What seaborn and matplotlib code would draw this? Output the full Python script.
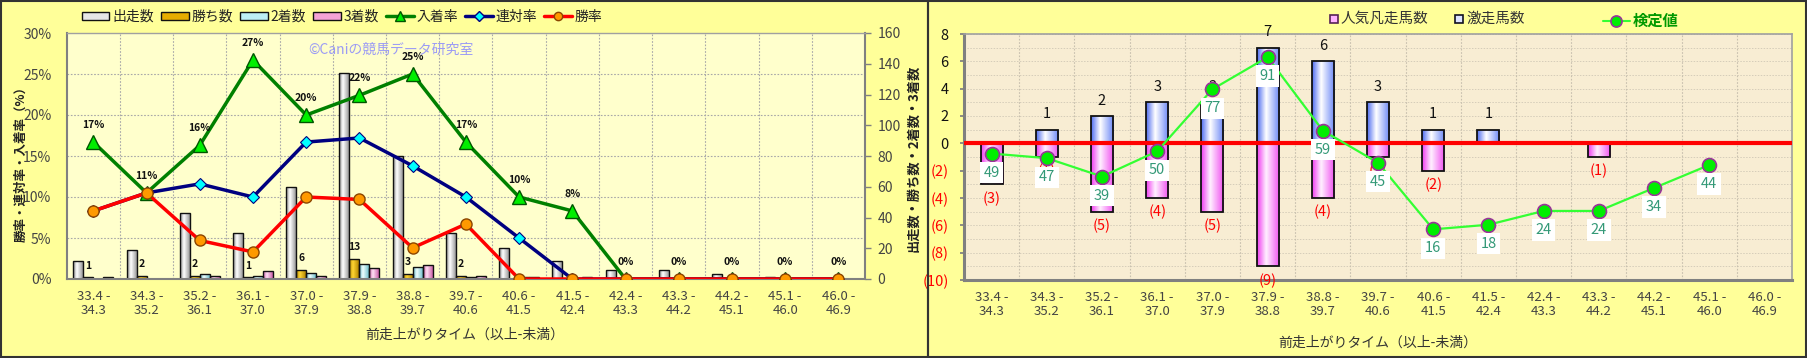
import numpy as np
import pandas as pd
import matplotlib
matplotlib.use("Agg")
import matplotlib.pyplot as plt
import seaborn as sns
from matplotlib.patches import Rectangle
from matplotlib.lines import Line2D
from matplotlib.colors import LinearSegmentedColormap

# ---------------- data ----------------
categories = ["33.4 -\n34.3", "34.3 -\n35.2", "35.2 -\n36.1", "36.1 -\n37.0", "37.0 -\n37.9",
              "37.9 -\n38.8", "38.8 -\n39.7", "39.7 -\n40.6", "40.6 -\n41.5", "41.5 -\n42.4",
              "42.4 -\n43.3", "43.3 -\n44.2", "44.2 -\n45.1", "45.1 -\n46.0", "46.0 -\n46.9"]
runners = [12, 19, 43, 30, 60, 134, 80, 30, 20, 12, 6, 6, 3, 1, 0]      # 出走数
wins    = [1, 2, 2, 1, 6, 13, 3, 2, 0, 0, 0, 0, 0, 0, 0]                # 勝ち数
seconds = [0, 0, 3, 2, 4, 10, 8, 1, 1, 0, 0, 0, 0, 0, 0]                # 2着数
thirds  = [1, 0, 2, 5, 2, 7, 9, 2, 1, 1, 0, 0, 0, 0, 0]                 # 3着数
place_rate    = [16.7, 10.5, 16.3, 26.7, 20.0, 22.4, 25.0, 16.7, 10.0, 8.3, 0, 0, 0, 0, 0]  # 入着率
quinella_rate = [8.3, 10.5, 11.6, 10.0, 16.7, 17.2, 13.8, 10.0, 5.0, 0, 0, 0, 0, 0, 0]    # 連対率
win_rate      = [8.3, 10.5, 4.7, 3.3, 10.0, 9.7, 3.8, 6.7, 0, 0, 0, 0, 0, 0, 0]          # 勝率
place_labels  = ["17%", "11%", "16%", "27%", "20%", "22%", "25%", "17%", "10%", "8%",
                 "0%", "0%", "0%", "0%", "0%"]

upset_counts = [0, 1, 2, 3, 3, 7, 6, 3, 1, 1, 0, 0, 0, 0, 0]    # 激走馬数
flop_counts  = [3, 1, 5, 4, 5, 9, 4, 1, 2, 0, 0, 1, 0, 0, 0]    # 人気凡走馬数
test_values  = [49, 47, 39, 50, 77, 91, 59, 45, 16, 18, 24, 24, 34, 44, np.nan]  # 検定値

series_names = ["出走数", "勝ち数", "2着数", "3着数"]

# ---------------- style ----------------
sns.set_theme(style="white")
plt.rcParams["font.family"] = ["Noto Sans CJK JP", "DejaVu Sans"]
plt.rcParams["axes.unicode_minus"] = False

W, H = 1808, 358
fig = plt.figure(figsize=(W / 100, H / 100), dpi=100, facecolor="#FFFF99")


def fx(px):
    return px / W


def fy(py):
    return 1 - py / H


def shade_bars(ax, patches, stops):
    xl, yl = ax.get_xlim(), ax.get_ylim()
    cmap = LinearSegmentedColormap.from_list("g", stops)
    grad = np.linspace(0, 1, 64).reshape(1, -1)
    for p in patches:
        h = p.get_height()
        if h == 0:
            continue
        x0, w, y0 = p.get_x(), p.get_width(), p.get_y()
        z = p.get_zorder()
        im = ax.imshow(grad, extent=[x0, x0 + w, y0, y0 + h], aspect="auto", cmap=cmap,
                       zorder=z, interpolation="bilinear")
        im.set_clip_path(p)
        p.set_facecolor("none")
        p.set_zorder(z + 0.05)
    ax.set_xlim(xl)
    ax.set_ylim(yl)


tick_col = "#444444"
grid_kw = dict(color="#A8A8A8", lw=0.8, ls=(0, (1.5, 1.5)))

# ================= LEFT CHART =================
axL = fig.add_axes([fx(66.7), fy(279), fx(865 - 66.7), (279 - 33) / H])
axL.set_facecolor("#FFFFCC")

df = pd.concat([
    pd.DataFrame({"cat": categories, "series": name, "count": vals})
    for name, vals in zip(series_names, [runners, wins, seconds, thirds])
], ignore_index=True)

bar_colors = ["#E6E6E6", "#E6AC00", "#BDEFF5", "#F5A3D6"]
sns.barplot(data=df, x="cat", y="count", hue="series", hue_order=series_names,
            palette=bar_colors, width=0.75, edgecolor="#111111", linewidth=1.0,
            errorbar=None, saturation=1, legend=False, ax=axL, zorder=2)
axL.set_ylim(0, 160)
axL.set_xlim(-0.5, 14.5)
axL.set_xlabel("")
axL.set_ylabel("")

stops_list = [
    [(0, "#8C8C8C"), (0.4, "#FFFFFF"), (1, "#9A9A9A")],
    [(0, "#B38600"), (0.4, "#FFD633"), (1, "#B38600")],
    [(0, "#66B8C8"), (0.4, "#EFFFFF"), (1, "#70C0CC")],
    [(0, "#CC5FA8"), (0.4, "#FFE0F4"), (1, "#CC5FA8")],
]
for cont, stops in zip(axL.containers, stops_list):
    shade_bars(axL, list(cont), stops)

# grid (drawn on the bar axis so it stays behind everything)
for k in range(1, 6):
    axL.axhline(160 * k / 6, zorder=0.5, **grid_kw)
for k in range(14):
    axL.axvline(k + 0.5, zorder=0.5, **grid_kw)

# win labels
axL.bar_label(axL.containers[1], labels=[str(w) if w > 0 else "" for w in wins],
              padding=5, fontsize=7.5, fontweight="bold", color="#111111")

for s in ["left", "bottom", "right"]:
    axL.spines[s].set_color("#808080")
    axL.spines[s].set_linewidth(1.5)
axL.spines["top"].set_color("#A0A0A0")
axL.spines["top"].set_linewidth(1)

axP = axL.twinx()
# counts axis on the right, percent axis on the left
axL.yaxis.tick_right()
axL.yaxis.set_label_position("right")
axL.set_yticks(range(0, 161, 20))
axL.tick_params(axis="y", which="major", right=True, left=False, labelright=True,
                labelleft=False, length=4, width=1, color="#808080",
                labelsize=10, labelcolor=tick_col, pad=5)
axL.tick_params(axis="x", length=0, labelsize=9.5, labelcolor="#444444", pad=8)
for lab in axL.get_xticklabels():
    lab.set_linespacing(1.05)

axP.yaxis.tick_left()
axP.yaxis.set_label_position("left")
axP.set_ylim(0, 30)
axP.set_yticks(range(0, 31, 5))
axP.set_yticklabels([f"{v}%" for v in range(0, 31, 5)])
axP.tick_params(axis="y", length=0, labelsize=10, labelcolor=tick_col, pad=11,
                left=True, right=False, labelleft=True, labelright=False)
for s in axP.spines.values():
    s.set_visible(False)

xi = np.arange(len(categories))
sns.lineplot(x=xi, y=place_rate, ax=axP, color="#008000", lw=2.5, marker="^", markersize=10,
             markerfacecolor="#00EE00", markeredgecolor="#005500", markeredgewidth=1, zorder=3)
sns.lineplot(x=xi, y=quinella_rate, ax=axP, color="#000080", lw=2.5, marker="D", markersize=6,
             markerfacecolor="#00FFFF", markeredgecolor="#000080", markeredgewidth=0.8, zorder=4)
sns.lineplot(x=xi, y=win_rate, ax=axP, color="#FF0000", lw=2.5, marker="o", markersize=8,
             markerfacecolor="#FF9900", markeredgecolor="#8B4500", markeredgewidth=1, zorder=5)
axP.set_xlim(-0.5, 14.5)
axP.set_ylim(0, 30)
axP.set_xlabel("")
axP.set_ylabel("")

for i, (v, lab) in enumerate(zip(place_rate, place_labels)):
    axP.annotate(lab, (i, v), xytext=(0, 12), textcoords="offset pixels", ha="center",
                 va="bottom", fontsize=7.5, fontweight="bold", color="#111111", zorder=6)

fig.text(fx(308), fy(50), "©Caniの競馬データ研究室", color="#9B9BF5", fontsize=10,
         ha="left", va="center")

fig.text(fx(21), fy(161), "勝率・連対率・入着率（%）", rotation=90, ha="center", va="center",
         fontsize=9, fontweight="bold", color="#222222")
fig.text(fx(913), fy(158), "出走数・勝ち数・2着数・3着数", rotation=90, ha="center", va="center",
         fontsize=9.5, fontweight="bold", color="#222222")
fig.text(fx(465), fy(335), "前走上がりタイム（以上-未満）", ha="center", va="center",
         fontsize=10, color="#333333")

# left legend
leg_handles = [Rectangle((0, 0), 1, 1, fc=c, ec="#111111", lw=1) for c in bar_colors] + [
    Line2D([], [], color="#008000", lw=2.5, marker="^", markersize=7,
           markerfacecolor="#00EE00", markeredgecolor="#005500"),
    Line2D([], [], color="#000080", lw=2.5, marker="D", markersize=5,
           markerfacecolor="#00FFFF", markeredgecolor="#000080"),
    Line2D([], [], color="#FF0000", lw=2.5, marker="o", markersize=6,
           markerfacecolor="#FF9900", markeredgecolor="#8B4500"),
]
leg_labels = series_names + ["入着率", "連対率", "勝率"]
fig.legend(leg_handles, leg_labels, loc="center", bbox_to_anchor=(fx(342), fy(17)), ncol=7,
           frameon=False, handlelength=2.0, handleheight=0.55, handletextpad=0.2,
           columnspacing=0.5, fontsize=10, labelcolor="#222222")

# ================= RIGHT CHART =================
axR = fig.add_axes([fx(964), fy(280), fx(1792 - 964), (280 - 34) / H])
axR.set_facecolor("#F8EDD3")
sns.barplot(x=categories, y=upset_counts, color="#6F8CFF", width=0.4, edgecolor="#111111",
            linewidth=1.3, saturation=1, ax=axR, zorder=2)
sns.barplot(x=categories, y=[-v for v in flop_counts], color="#FF55FF", width=0.4,
            edgecolor="#111111", linewidth=1.3, saturation=1, ax=axR, zorder=2)
axR.set_ylim(-10, 8)
axR.set_xlim(-0.5, 14.5)

shade_bars(axR, list(axR.containers[0]), [(0, "#4F6CF0"), (0.4, "#FFFFFF"), (1, "#6A86F6")])
shade_bars(axR, list(axR.containers[1]), [(0, "#F03CF0"), (0.4, "#FFF0FF"), (1, "#F050F0")])

for v in range(-10, 9, 1):
    axR.axhline(v, zorder=0.5, color="#D5CDBA", lw=0.7, ls=(0, (1.5, 1.5)))
for k in range(14):
    axR.axvline(k + 0.5, zorder=0.5, color="#C8C0AE", lw=0.8, ls=(0, (1.5, 1.5)))
axR.axhline(0, color="#FF0000", lw=3, zorder=4)

axR.bar_label(axR.containers[0], labels=[str(v) if v > 0 else "" for v in upset_counts],
              padding=6, fontsize=10.5, color="#111111")
axR.bar_label(axR.containers[1], labels=[f"({v})" if v > 0 else "" for v in flop_counts],
              padding=5, fontsize=10.5, color="#FF0000")

yt = list(range(-10, 9, 2))
axR.set_yticks(yt)
axR.set_yticklabels([str(v) if v >= 0 else f"({-v})" for v in yt])
for lab, v in zip(axR.get_yticklabels(), yt):
    lab.set_color("#FF0000" if v < 0 else "#111111")
axR.tick_params(axis="y", length=3, color="#808080", labelsize=10.5, pad=8, left=True)
axR.tick_params(axis="x", length=0, labelsize=9.5, labelcolor="#444444", pad=8)
for lab in axR.get_xticklabels():
    lab.set_linespacing(1.05)
axR.set_xlabel("")
axR.set_ylabel("")
for s in ["left", "bottom"]:
    axR.spines[s].set_color("#808080")
    axR.spines[s].set_linewidth(2.2)
for s in ["top", "right"]:
    axR.spines[s].set_color("#A0A0A0")
    axR.spines[s].set_linewidth(1.2)

axS = axR.twinx()
axS.set_ylim(-6.07, 101.07)
sns.lineplot(x=xi, y=test_values, ax=axS, color="#33FF33", lw=1.6, marker="o", markersize=10,
             markerfacecolor="#00EE00", markeredgecolor="#993399", markeredgewidth=1.2, zorder=5)
axS.set_ylim(-6.07, 101.07)
axS.set_xlim(-0.5, 14.5)
axS.set_yticks([])
axS.set_ylabel("")
for s in axS.spines.values():
    s.set_visible(False)
for i, v in enumerate(test_values):
    if np.isnan(v):
        continue
    axS.annotate(f"{int(v)}", (i, v), xytext=(0, -19),
                 textcoords="offset pixels", ha="center", va="center", fontsize=10.5,
                 color="#339977", zorder=6,
                 bbox=dict(boxstyle="square,pad=0.25", fc="white", ec="none"))

fig.text(fx(1378), fy(343), "前走上がりタイム（以上-未満）", ha="center", va="center",
         fontsize=10, color="#333333")

# right legend (manual)
fig.add_artist(Rectangle((fx(1330), fy(23)), fx(8), 8 / H, transform=fig.transFigure,
                         fc="#FFB3FF", ec="#552255", lw=1.2))
fig.text(fx(1341), fy(19), "人気凡走馬数", fontsize=10.5, color="#333333", ha="left", va="center")
fig.add_artist(Rectangle((fx(1455), fy(23)), fx(8), 8 / H, transform=fig.transFigure,
                         fc="#DDE4FF", ec="#111122", lw=1.2))
fig.text(fx(1466), fy(19), "激走馬数", fontsize=10.5, color="#333333", ha="left", va="center")
fig.add_artist(Line2D([fx(1603), fx(1630)], [fy(21), fy(21)], transform=fig.transFigure,
                      color="#33FF33", lw=1.5))
fig.add_artist(Line2D([fx(1616)], [fy(21)], transform=fig.transFigure, marker="o", markersize=8,
                      markerfacecolor="#00EE00", markeredgecolor="#993399", markeredgewidth=1.2))
fig.text(fx(1633), fy(21), "検定値", fontsize=11, color="#009900", fontweight="bold",
         ha="left", va="center")

# panel borders
fig.add_artist(Rectangle((fx(1), fy(357)), fx(927), 356 / H, transform=fig.transFigure,
                         fill=False, ec="#333333", lw=1.5))
fig.add_artist(Rectangle((fx(928), fy(357)), fx(878), 356 / H, transform=fig.transFigure,
                         fill=False, ec="#333333", lw=1.5))

fig.savefig("out.png", dpi=100, facecolor=fig.get_facecolor())
